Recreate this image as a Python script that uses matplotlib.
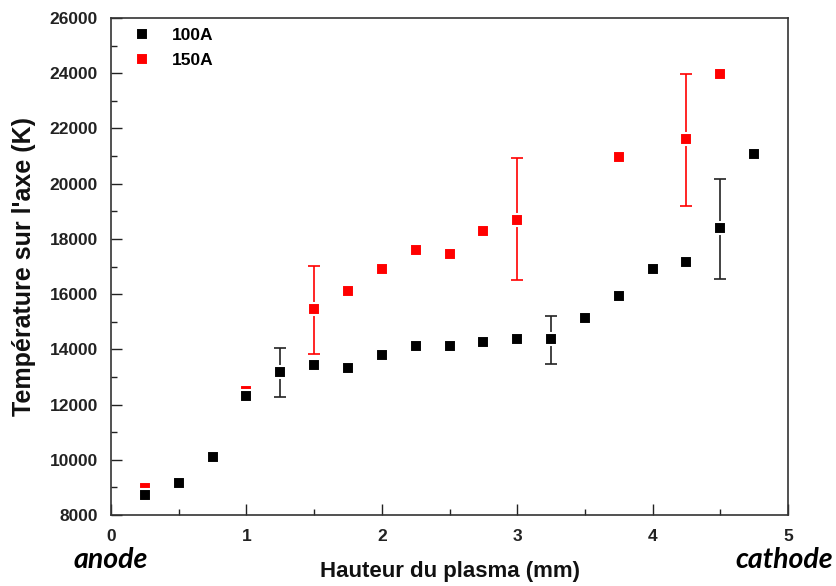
import matplotlib
matplotlib.use("Agg")
import matplotlib.pyplot as plt
from matplotlib.ticker import MultipleLocator
from matplotlib import font_manager

names = {f.name for f in font_manager.fontManager.ttflist}
ital = 'Lato' if 'Lato' in names else 'Open Sans'

x100 = [0.25, 0.5, 0.75, 1.0, 1.25, 1.5, 1.75, 2.0, 2.25, 2.5, 2.75, 3.0, 3.25, 3.5, 3.75, 4.0, 4.25, 4.5, 4.75]
y100 = [8720, 9170, 10100, 12320, 13180, 13440, 13340, 13810, 14130, 14130, 14270, 14380, 14380, 15120, 15920, 16920, 17180, 18380, 21080]
err100_x = [1.25, 3.25, 4.5]
err100_y = [13180, 14380, 18380]
err100_lo = [900, 900, 1820]
err100_hi = [880, 840, 1800]

x150 = [0.25, 0.75, 1.0, 1.5, 1.75, 2.0, 2.25, 2.5, 2.75, 3.0, 3.75, 4.25, 4.5]
y150 = [8990, 10030, 12490, 15470, 16130, 16920, 17610, 17460, 18270, 18700, 20980, 21600, 23980]
err150_x = [1.5, 3.0, 4.25]
err150_y = [15470, 18700, 21600]
err150_lo = [1630, 2190, 2400]
err150_hi = [1560, 2240, 2380]

fig = plt.figure(figsize=(8.37, 5.86), dpi=100)
ax = fig.add_axes([111/837, 1-515/586, (788-111)/837, (515-18)/586])

ax.errorbar(err150_x, err150_y, yerr=[err150_lo, err150_hi], fmt='none', ecolor='red',
            elinewidth=1.2, capsize=4, capthick=1.2, zorder=2)
ax.errorbar(err100_x, err100_y, yerr=[err100_lo, err100_hi], fmt='none', ecolor='#222222',
            elinewidth=1.2, capsize=4, capthick=1.2, zorder=2)
ax.plot(x150, y150, 's', color='red', ms=8.5, mec='white', mew=1.5, ls='none', label='150A', zorder=3)
ax.plot(x100, y100, 's', color='black', ms=8.5, mec='white', mew=1.5, ls='none', label='100A', zorder=4)

ax.set_xlim(0, 5)
ax.set_ylim(8000, 26000)
ax.xaxis.set_major_locator(MultipleLocator(1))
ax.xaxis.set_minor_locator(MultipleLocator(0.5))
ax.yaxis.set_major_locator(MultipleLocator(2000))
ax.yaxis.set_minor_locator(MultipleLocator(1000))
ax.tick_params(which='major', direction='in', length=8, width=1, top=False, right=False,
               colors='#222222')
ax.tick_params(which='minor', direction='in', length=4, width=1, top=False, right=False,
               colors='#222222')
ax.tick_params(axis='x', which='major', pad=10)
ax.tick_params(axis='y', which='major', pad=9.5)
for lab in ax.get_xticklabels() + ax.get_yticklabels():
    lab.set_fontfamily('Liberation Sans')
    lab.set_fontweight('bold')
    lab.set_fontsize(12.5)
for s in ax.spines.values():
    s.set_linewidth(1.2)
    s.set_color('#333333')

ax.set_ylabel("Température sur l'axe (K)", fontsize=18, fontweight='bold', family='Liberation Sans',
              color='#111111')
ax.yaxis.set_label_coords(-(111-24)/677, 0.5)
ax.set_xlabel("Hauteur du plasma (mm)", fontsize=16, fontweight='bold', family='Liberation Sans',
              color='#111111')
ax.xaxis.set_label_coords(0.5, -(571-515)/497)
ax.xaxis.label.set_va('center')
ax.yaxis.label.set_va('center')

handles, labels = ax.get_legend_handles_labels()
leg = ax.legend(handles[::-1], labels[::-1], loc='upper left', frameon=False,
                bbox_to_anchor=(21/677, 1-10/497), borderaxespad=0, borderpad=0,
                handletextpad=1.1, handlelength=1.2, labelspacing=0.58,
                prop={'family': 'Liberation Sans', 'weight': 'bold', 'size': 12.5})

fig.text(111/837, 1-568/586, 'anode', fontsize=20.5, fontweight='bold', style='italic', family=ital,
         ha='center', va='baseline')
fig.text(784/837, 1-568/586, 'cathode', fontsize=20.5, fontweight='bold', style='italic', family=ital,
         ha='center', va='baseline')

fig.savefig('out.png', dpi=100)
